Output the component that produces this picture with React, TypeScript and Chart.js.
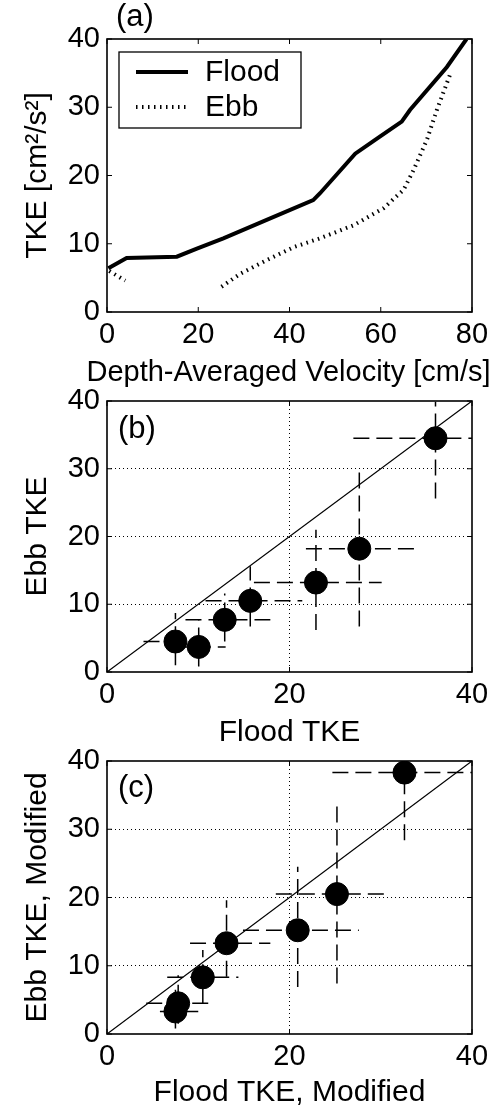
import React, { useEffect, useRef } from "react";
import { Chart, registerables } from "chart.js";

Chart.register(...registerables);

const FONT = "'Liberation Sans', Arial, Helvetica, sans-serif";

// ---------- Panel (a): TKE vs depth-averaged velocity ----------
const floodVelocity = [0.3, 4.3, 15.3, 19.7, 25.5, 35.0, 45.2, 46.7, 54.4, 59.8, 64.6, 66.4, 74.5, 78.8];
const floodTKE = [6.4, 7.9, 8.1, 9.3, 10.8, 13.5, 16.4, 17.4, 23.2, 25.7, 27.9, 29.6, 35.9, 40.0];
const ebbVelocity = [0.5, 4.0, 14.0, 25.1, 29.2, 35.0, 40.9, 46.7, 54.0, 60.6, 65.0, 67.2, 70.1, 72.3, 75.2];
const ebbTKE: (number | null)[] = [6.0, 4.6, null, 3.7, 5.6, 7.6, 9.5, 10.8, 12.7, 15.2, 17.9, 20.8, 25.2, 29.6, 34.8];
const velocityTicks = [0, 20, 40, 60, 80];
const tkeTicksA = [0, 10, 20, 30, 40];
const velocityTitle = "Depth-Averaged Velocity [cm/s]";

// ---------- Panel (b): Ebb TKE vs Flood TKE ----------
const floodB = [7.5, 10.05, 12.9, 15.7, 22.9, 27.65, 36.0];
const ebbB = [4.5, 3.7, 7.7, 10.5, 13.2, 18.2, 34.5];
const floodLoB = [4.0, 7.1, 8.6, 10.8, 16.1, 21.8, 27.0];
const floodHiB = [10.3, 13.0, 17.9, 21.4, 30.1, 33.8, 40.0];
const ebbLoB = [1.0, 0.8, 4.5, 6.7, 6.2, 6.7, 25.6];
const ebbHiB = [8.7, 7.7, 11.6, 15.6, 21.0, 30.3, 39.9];

// ---------- Panel (c): modified ----------
const floodC = [7.5, 7.8, 10.5, 13.1, 20.9, 25.2, 32.6];
const ebbC = [3.3, 4.5, 8.3, 13.3, 15.2, 20.5, 38.3];
const floodLoC = [5.8, 4.3, 6.6, 9.1, 14.9, 18.5, 24.7];
const floodHiC = [10.0, 11.8, 14.4, 17.9, 27.6, 31.1, 40.0];
const ebbLoC = [0.8, 1.5, 4.5, 8.4, 6.9, 7.4, 28.4];
const ebbHiC = [6.5, 8.6, 12.3, 19.6, 24.5, 34.1, 40.0];

const tkeTicksX = [0, 20, 40];
const tkeTicksY = [0, 10, 20, 30, 40];
const identity = [0, 40];

const TICK_FONT = { family: FONT, size: 29 };
const TITLE_FONT = { family: FONT, size: 30 };

function setTicks(values: number[]) {
  return (scale: any) => {
    scale.ticks = values.map((v) => ({ value: v }));
  };
}

function framePlugin(label: string, lx: number, ly: number) {
  return {
    id: "frame_" + label,
    afterDatasetsDraw(chart: any) {
      const { ctx, chartArea } = chart;
      const { left, right, top, bottom } = chartArea;
      ctx.save();
      ctx.strokeStyle = "#000";
      ctx.lineWidth = 1;
      const xs = chart.scales.x;
      const ys = chart.scales.y;
      const tl = 5;
      xs.ticks.forEach((t: any) => {
        const p = xs.getPixelForValue(t.value);
        ctx.beginPath();
        ctx.moveTo(p, bottom);
        ctx.lineTo(p, bottom - tl);
        ctx.moveTo(p, top);
        ctx.lineTo(p, top + tl);
        ctx.stroke();
      });
      ys.ticks.forEach((t: any) => {
        const p = ys.getPixelForValue(t.value);
        ctx.beginPath();
        ctx.moveTo(left, p);
        ctx.lineTo(left + tl, p);
        ctx.moveTo(right, p);
        ctx.lineTo(right - tl, p);
        ctx.stroke();
      });
      ctx.lineWidth = 1.6;
      ctx.strokeRect(left, top, right - left, bottom - top);
      ctx.fillStyle = "#000";
      ctx.font = `31px ${FONT}`;
      ctx.textBaseline = "alphabetic";
      ctx.textAlign = "left";
      ctx.fillText(label, left + lx, top + ly);
      ctx.restore();
    },
  };
}

// x-axis title of panel (a), wider than the plot area in the original
const wideXTitlePlugin = {
  id: "wideXTitle",
  afterDraw(chart: any) {
    const { ctx, chartArea } = chart;
    const xs = chart.scales.x;
    ctx.save();
    ctx.fillStyle = "#000";
    ctx.font = `29px ${FONT}`;
    ctx.textAlign = "center";
    ctx.textBaseline = "middle";
    ctx.fillText(velocityTitle, (chartArea.left + chartArea.right) / 2 - 1, xs.bottom - 22);
    ctx.restore();
  },
};

const legendPlugin = {
  id: "boxLegend",
  afterDraw(chart: any) {
    const { ctx, chartArea } = chart;
    const x = chartArea.left + 12;
    const y = chartArea.top + 13;
    const w = 182;
    const h = 76;
    ctx.save();
    ctx.fillStyle = "#fff";
    ctx.fillRect(x, y, w, h);
    ctx.strokeStyle = "#000";
    ctx.lineWidth = 1.3;
    ctx.strokeRect(x, y, w, h);
    chart.data.datasets.forEach((ds: any, i: number) => {
      const cy = y + 20 + i * 35;
      ctx.beginPath();
      ctx.lineWidth = ds.borderWidth;
      ctx.setLineDash(ds.borderDash || []);
      ctx.moveTo(x + 17, cy);
      ctx.lineTo(x + 69, cy);
      ctx.stroke();
      ctx.setLineDash([]);
      ctx.fillStyle = "#000";
      ctx.font = `30px ${FONT}`;
      ctx.textBaseline = "middle";
      ctx.textAlign = "left";
      ctx.fillText(ds.label, x + 86, cy + 1);
    });
    ctx.restore();
  },
};

function pairs(xs: number[], ys: (number | null)[]) {
  return xs.map((v, i) => ({ x: v, y: ys[i] }));
}

function hBars(lo: number[], hi: number[], yv: number[]) {
  const out: any[] = [];
  yv.forEach((y, i) => {
    out.push({ x: lo[i], y });
    out.push({ x: hi[i], y });
    out.push({ x: hi[i], y: null });
  });
  return out;
}

function vBars(xv: number[], lo: number[], hi: number[]) {
  const out: any[] = [];
  xv.forEach((x, i) => {
    out.push({ x, y: lo[i] });
    out.push({ x, y: hi[i] });
    out.push({ x, y: null });
  });
  return out;
}

function gridColor(max: number) {
  return (c: any) =>
    c.tick && (c.tick.value === 0 || c.tick.value === max) ? "rgba(0,0,0,0)" : "#000";
}

function makeScatterConfig(
  fx: number[], ey: number[], fLo: number[], fHi: number[], eLo: number[], eHi: number[],
  xTitle: string, yTitle: string, xHeight: number, xTitlePad: number, label: string, ly: number
): any {
  const dash = [16, 7];
  return {
    type: "scatter",
    data: {
      datasets: [
        {
          label: "points",
          data: pairs(fx, ey),
          showLine: false,
          pointRadius: 11.5,
          pointBackgroundColor: "#000",
          pointBorderColor: "#000",
          pointBorderWidth: 1,
        },
        {
          label: "horizontal spread",
          data: hBars(fLo, fHi, ey),
          showLine: true,
          spanGaps: false,
          pointRadius: 0,
          borderColor: "#000",
          borderWidth: 1.5,
          borderDash: dash,
        },
        {
          label: "vertical spread",
          data: vBars(fx, eLo, eHi),
          showLine: true,
          spanGaps: false,
          pointRadius: 0,
          borderColor: "#000",
          borderWidth: 1.5,
          borderDash: dash,
        },
        {
          label: "1:1",
          data: pairs(identity, identity),
          showLine: true,
          pointRadius: 0,
          borderColor: "#000",
          borderWidth: 1.2,
        },
      ],
    },
    options: {
      animation: false,
      responsive: false,
      maintainAspectRatio: false,
      devicePixelRatio: 1,
      events: [],
      layout: { padding: { top: 36, right: 25, left: 0, bottom: 0 } },
      plugins: { legend: { display: false }, tooltip: { enabled: false } },
      scales: {
        x: {
          type: "linear",
          min: 0,
          max: 40,
          afterBuildTicks: setTicks(tkeTicksX),
          afterFit: (s: any) => { s.height = xHeight; },
          grid: { display: true, drawTicks: false, color: gridColor(40), lineWidth: 1 },
          border: { display: false, dash: [1, 3] },
          ticks: { font: TICK_FONT, color: "#000", padding: 6, maxRotation: 0, autoSkip: false },
          title: { display: true, text: xTitle, font: TITLE_FONT, color: "#000", padding: { top: 0, bottom: xTitlePad } },
        },
        y: {
          type: "linear",
          min: 0,
          max: 40,
          afterBuildTicks: setTicks(tkeTicksY),
          afterFit: (s: any) => { s.width = 107; },
          grid: { display: true, drawTicks: false, color: gridColor(40), lineWidth: 1 },
          border: { display: false, dash: [1, 3] },
          ticks: { font: TICK_FONT, color: "#000", padding: 7, autoSkip: false },
          title: { display: true, text: yTitle, font: TITLE_FONT, color: "#000", padding: { top: 20, bottom: 0 } },
        },
      },
    },
    plugins: [framePlugin(label, 11, ly)],
  };
}

export default function App() {
  const refA = useRef<HTMLCanvasElement>(null);
  const refB = useRef<HTMLCanvasElement>(null);
  const refC = useRef<HTMLCanvasElement>(null);

  useEffect(() => {
    document.body.style.margin = "0";
    Chart.defaults.font.family = FONT;
    Chart.defaults.color = "#000";

    const chartA = new Chart(refA.current as HTMLCanvasElement, {
      type: "scatter",
      data: {
        datasets: [
          {
            label: "Flood",
            data: pairs(floodVelocity, floodTKE),
            showLine: true,
            pointRadius: 0,
            borderColor: "#000",
            borderWidth: 4,
          },
          {
            label: "Ebb",
            data: pairs(ebbVelocity, ebbTKE),
            showLine: true,
            spanGaps: false,
            pointRadius: 0,
            borderColor: "#000",
            borderWidth: 4,
            borderDash: [1.5, 4.5],
          },
        ],
      },
      options: {
        animation: false,
        responsive: false,
        maintainAspectRatio: false,
        devicePixelRatio: 1,
        events: [],
        layout: { padding: { top: 39, right: 25, left: 0, bottom: 0 } },
        plugins: { legend: { display: false }, tooltip: { enabled: false } },
        scales: {
          x: {
            type: "linear",
            min: 0,
            max: 80,
            afterBuildTicks: setTicks(velocityTicks),
            afterFit: (s: any) => { s.height = 83; },
            grid: { display: false, drawTicks: false },
            border: { display: false },
            ticks: { font: TICK_FONT, color: "#000", padding: 6, maxRotation: 0, autoSkip: false },
            title: { display: false, text: velocityTitle },
          },
          y: {
            type: "linear",
            min: 0,
            max: 40,
            afterBuildTicks: setTicks(tkeTicksA),
            afterFit: (s: any) => { s.width = 107; },
            grid: { display: false, drawTicks: false },
            border: { display: false },
            ticks: { font: TICK_FONT, color: "#000", padding: 7, autoSkip: false },
            title: { display: true, text: "TKE [cm²/s²]", font: TITLE_FONT, color: "#000", padding: { top: 20, bottom: 0 } },
          },
        },
      },
      plugins: [framePlugin("(a)", 9, -13), legendPlugin, wideXTitlePlugin],
    } as any);

    const chartB = new Chart(
      refB.current as HTMLCanvasElement,
      makeScatterConfig(floodB, ebbB, floodLoB, floodHiB, ebbLoB, ebbHiB, "Flood TKE", "Ebb TKE", 83, 4, "(b)", 37)
    );
    const chartC = new Chart(
      refC.current as HTMLCanvasElement,
      makeScatterConfig(floodC, ebbC, floodLoC, floodHiC, ebbLoC, ebbHiC, "Flood TKE, Modified", "Ebb TKE, Modified", 77, 0, "(c)", 36)
    );

    return () => {
      chartA.destroy();
      chartB.destroy();
      chartC.destroy();
    };
  }, []);

  return (
    <div style={{ position: "relative", width: 497, height: 1111, background: "#fff", overflow: "hidden" }}>
      <canvas ref={refA} width={497} height={395} style={{ position: "absolute", left: 0, top: 0, width: 497, height: 395 }} />
      <canvas ref={refB} width={497} height={390} style={{ position: "absolute", left: 0, top: 365, width: 497, height: 390 }} />
      <canvas ref={refC} width={497} height={386} style={{ position: "absolute", left: 0, top: 725, width: 497, height: 386 }} />
    </div>
  );
}
